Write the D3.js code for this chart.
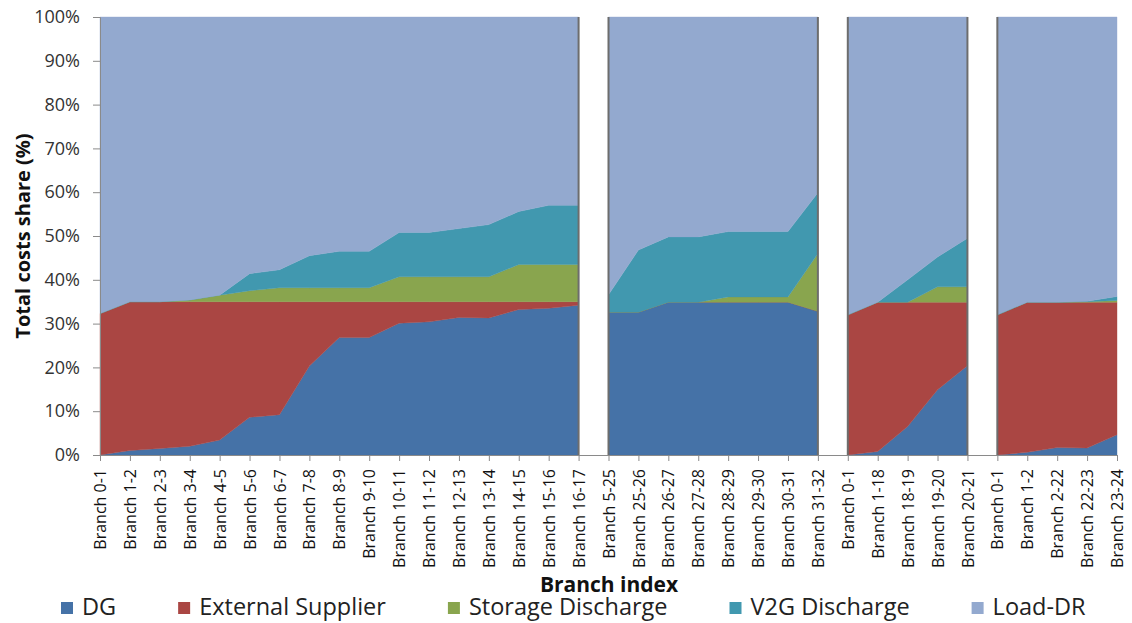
<!DOCTYPE html>
<html>
<head>
<meta charset="utf-8">
<script src="https://cdn.jsdelivr.net/npm/d3@7"></script>
<style>
    body { margin: 0; background: #fff; }
    text { font-family: "Open Sans", sans-serif; }
</style>
</head>
<body>
<div id="chart"></div>
<script>
// branch labels, split into the four feeder segments
const branches = [
    "Branch 0-1", "Branch 1-2", "Branch 2-3", "Branch 3-4", "Branch 4-5", "Branch 5-6",
    "Branch 6-7", "Branch 7-8", "Branch 8-9", "Branch 9-10", "Branch 10-11", "Branch 11-12",
    "Branch 12-13", "Branch 13-14", "Branch 14-15", "Branch 15-16", "Branch 16-17",
    "Branch 5-25", "Branch 25-26", "Branch 26-27", "Branch 27-28", "Branch 28-29",
    "Branch 29-30", "Branch 30-31", "Branch 31-32",
    "Branch 0-1", "Branch 1-18", "Branch 18-19", "Branch 19-20", "Branch 20-21",
    "Branch 0-1", "Branch 1-2", "Branch 2-22", "Branch 22-23", "Branch 23-24"
];
const segmentSizes = [17, 8, 5, 5];

const seriesNames = ["DG", "External Supplier", "Storage Discharge", "V2G Discharge", "Load-DR"];
const seriesColors = ["#4572a7", "#aa4643", "#89a54e", "#4198af", "#93a9cf"];

// cost shares in %
const dg = [0, 1, 1.5, 2, 3.4, 8.6, 9.2, 20.3, 26.8, 26.8, 30.1, 30.4, 31.4, 31.3, 33.2, 33.5, 34.2,
    32.6, 32.6, 34.9, 34.9, 34.9, 34.9, 34.9, 32.8,
    0, 0.8, 6.5, 14.9, 20.4,
    0, 0.6, 1.7, 1.6, 4.6];
const external = [32.3, 34, 33.5, 33, 31.6, 26.4, 25.8, 14.7, 8.2, 8.2, 4.9, 4.6, 3.6, 3.7, 1.8, 1.5, 0.8,
    0, 0, 0, 0, 0, 0, 0, 0,
    32, 34.1, 28.4, 20, 14.5,
    32, 34.3, 33.2, 33.3, 30.3];
const storage = [0, 0, 0, 0.4, 1.5, 2.5, 3.2, 3.2, 3.2, 3.2, 5.7, 5.7, 5.7, 5.7, 8.5, 8.5, 8.5,
    0, 0, 0, 0, 1.2, 1.2, 1.2, 13.2,
    0, 0, 0, 3.5, 3.5,
    0, 0, 0, 0.1, 0.4];
const v2g = [0, 0, 0, 0, 0, 3.9, 4.1, 7.3, 8.3, 8.3, 10.1, 10.1, 11.0, 11.9, 12.1, 13.5, 13.5,
    4.0, 14.2, 14.9, 14.9, 14.9, 14.9, 14.9, 13.9,
    0, 0, 5.1, 6.8, 11.1,
    0, 0, 0, 0.1, 0.9];
const loadDR = [67.7, 65, 65, 64.6, 63.5, 58.6, 57.7, 54.5, 53.5, 53.5, 49.2, 49.2, 48.3, 47.4, 44.4, 43, 43,
    63.4, 53.2, 50.2, 50.2, 49, 49, 49, 40.1,
    68, 65.1, 60, 54.8, 50.5,
    68, 65.1, 65.1, 64.9, 63.8];

const yTicks = [0, 10, 20, 30, 40, 50, 60, 70, 80, 90, 100];

const width = 1132;
const height = 623;
const plot = { left: 100, right: 1117, top: 17, bottom: 455 };

const svg = d3.select("#chart").append("svg")
    .attr("width", width)
    .attr("height", height);

const rows = branches.map((b, i) => ({
    i: i,
    "DG": dg[i],
    "External Supplier": external[i],
    "Storage Discharge": storage[i],
    "V2G Discharge": v2g[i],
    "Load-DR": loadDR[i]
}));

const x = d3.scalePoint()
    .domain(d3.range(branches.length))
    .range([plot.left, plot.right]);

const y = d3.scaleLinear()
    .domain([0, 100])
    .range([plot.bottom, plot.top]);

const color = d3.scaleOrdinal(seriesNames, seriesColors);

const stacked = d3.stack().keys(seriesNames)(rows);

// segment [start, end) index pairs
const ends = d3.cumsum(segmentSizes);
const segments = segmentSizes.map((s, k) => [ends[k] - s, ends[k]]);

const area = d3.area()
    .x(d => x(d.data.i))
    .y0(d => y(d[0]))
    .y1(d => y(d[1]));

svg.append("g")
    .selectAll("g")
    .data(stacked)
    .join("g")
      .attr("fill", d => color(d.key))
      .attr("stroke", d => color(d.key))
      .attr("stroke-width", 0.4)
    .selectAll("path")
    .data(s => segments.map(([a, b]) => s.slice(a, b)))
    .join("path")
      .attr("d", area);

// dark edges where the feeder segments break
const edges = [];
segments.forEach(([a, b], k) => {
    if (k > 0) edges.push(a);
    if (k < segments.length - 1) edges.push(b - 1);
});
svg.append("g")
    .selectAll("line")
    .data(edges)
    .join("line")
      .attr("x1", d => x(d))
      .attr("x2", d => x(d))
      .attr("y1", y(0))
      .attr("y2", y(100))
      .attr("stroke", "#6d6d6d")
      .attr("stroke-width", 2);

// axes
const yAxis = svg.append("g")
    .attr("transform", `translate(${plot.left},0)`)
    .call(d3.axisLeft(y).tickValues(yTicks).tickFormat(d => d + "%").tickSize(7).tickPadding(13));
yAxis.selectAll("path, line").attr("stroke", "#8a8a8a");
yAxis.selectAll("text")
    .attr("font-family", "Open Sans")
    .attr("font-size", 18)
    .attr("fill", "#333");

const xAxis = svg.append("g")
    .attr("transform", `translate(0,${plot.bottom})`)
    .call(d3.axisBottom(x).tickFormat(i => branches[i]).tickSize(6).tickSizeOuter(0));
xAxis.selectAll("path, line").attr("stroke", "#8a8a8a");
xAxis.selectAll("text")
    .attr("font-family", "Open Sans")
    .attr("font-size", 16)
    .attr("fill", "#111")
    .attr("transform", "rotate(-90)")
    .attr("text-anchor", "end")
    .attr("x", -14)
    .attr("y", 0)
    .attr("dy", "0.35em");

svg.append("text")
    .attr("transform", `translate(30,${(plot.top + plot.bottom) / 2}) rotate(-90)`)
    .attr("text-anchor", "middle")
    .attr("font-size", 20)
    .attr("font-weight", "bold")
    .attr("fill", "#111")
    .text("Total costs share (%)");

svg.append("text")
    .attr("x", 609)
    .attr("y", 592)
    .attr("text-anchor", "middle")
    .attr("font-size", 21)
    .attr("font-weight", "bold")
    .attr("fill", "#111")
    .text("Branch index");

// legend laid out left to right
const legend = svg.append("g").attr("transform", "translate(61,0)");
let lx = 0;
seriesNames.forEach(name => {
    const item = legend.append("g").attr("transform", `translate(${lx},0)`);
    item.append("rect")
        .attr("x", 0)
        .attr("y", 602)
        .attr("width", 12)
        .attr("height", 12)
        .attr("fill", color(name));
    const t = item.append("text")
        .attr("x", 21)
        .attr("y", 615)
        .attr("font-size", 23.5)
        .attr("fill", "#222")
        .text(name);
    lx += 21 + t.node().getComputedTextLength() + 62;
});
</script>
</body>
</html>
